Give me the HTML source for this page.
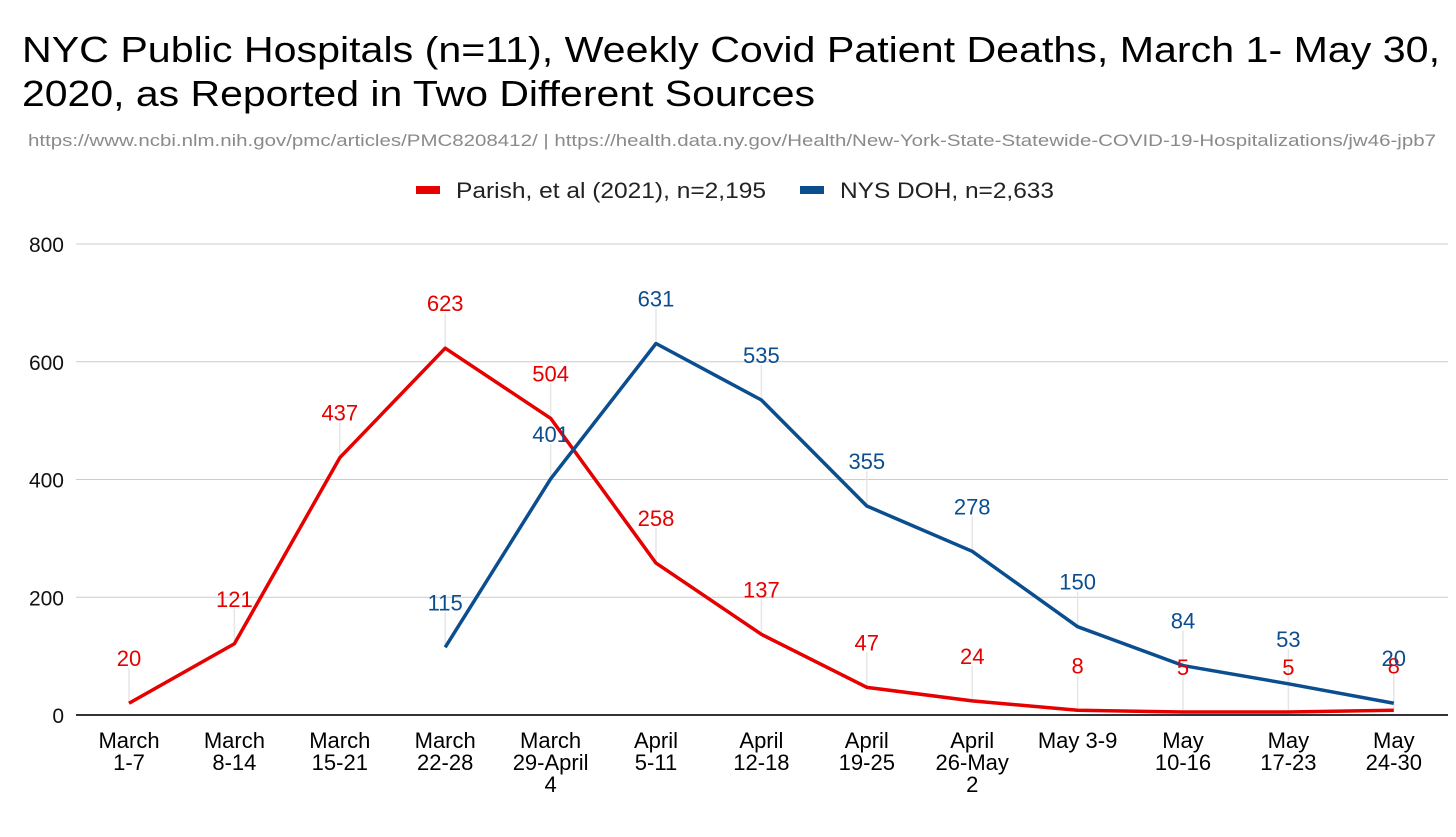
<!DOCTYPE html>
<html><head><meta charset="utf-8"><style>
body{margin:0;background:#fff;font-family:"Liberation Sans",Arial,sans-serif;}
svg{display:block}
</style></head><body>
<svg width="1456" height="837" viewBox="0 0 1456 837">
<text x="22" y="62" font-size="36" fill="#000" textLength="1418" lengthAdjust="spacingAndGlyphs">NYC Public Hospitals (n=11), Weekly Covid Patient Deaths, March 1- May 30,</text>
<text x="22" y="106" font-size="36" fill="#000" textLength="793" lengthAdjust="spacingAndGlyphs">2020, as Reported in Two Different Sources</text>
<text x="28" y="146" font-size="17" fill="#8a8a8a" textLength="1408" lengthAdjust="spacingAndGlyphs">https://www.ncbi.nlm.nih.gov/pmc/articles/PMC8208412/ | https://health.data.ny.gov/Health/New-York-State-Statewide-COVID-19-Hospitalizations/jw46-jpb7</text>
<g>
<rect x="416" y="186" width="24" height="8" fill="#e60000"/>
<text x="456" y="198" font-size="22" fill="#222" textLength="310" lengthAdjust="spacingAndGlyphs">Parish, et al (2021), n=2,195</text>
<rect x="800" y="186" width="24" height="8" fill="#0b4e8f"/>
<text x="840" y="198" font-size="22" fill="#222" textLength="214" lengthAdjust="spacingAndGlyphs">NYS DOH, n=2,633</text>
</g>
<g id="grid"></g><g id="xlabels"></g><g id="leaders"></g><g id="lines"></g><g id="vlabels"></g>
</svg>
<script>
const categories=[["March","1-7"],["March","8-14"],["March","15-21"],["March","22-28"],["March","29-April","4"],["April","5-11"],["April","12-18"],["April","19-25"],["April","26-May","2"],["May 3-9"],["May","10-16"],["May","17-23"],["May","24-30"]];
const parishValues=[20,121,437,623,504,258,137,47,24,8,5,5,8];
const dohValues=[null,null,null,115,401,631,535,355,278,150,84,53,20];
const yTicks=[0,200,400,600,800];
const NS="http://www.w3.org/2000/svg";
const x0=76,x1=1448,yBase=715,yTop=244;
function xPos(i){return 129+i*105.4;}
function yPos(v){return yBase-(v/800)*(yBase-yTop);}
function mk(t,a,p){const e=document.createElementNS(NS,t);for(const k in a)e.setAttribute(k,a[k]);document.getElementById(p).appendChild(e);return e;}
yTicks.forEach(v=>{
 const l=mk('line',{x1:x0,x2:x1,y1:yPos(v),y2:yPos(v),stroke:v===0?'#333':'#ccc','stroke-width':v===0?2:1},'grid');
 
 
 const t=mk('text',{x:64,y:yPos(v)+8,'font-size':21,'text-anchor':'end',fill:'#111'},'grid');
 t.textContent=v;
 
 
});
categories.forEach((c,i)=>{
 const t=mk('text',{x:xPos(i),'font-size':22,'text-anchor':'middle',fill:'#000'},'xlabels');
 
 
 c.forEach((s,j)=>{const ts=document.createElementNS(NS,'tspan');ts.setAttribute('x',xPos(i));ts.setAttribute('y',748+j*22);ts.textContent=s;t.appendChild(ts);});
});
function series(vals,color,name){
 let pts=[];vals.forEach((v,i)=>{if(v!==null)pts.push(xPos(i)+','+yPos(v));});
 const p=mk('polyline',{points:pts.join(' '),fill:'none',stroke:color,'stroke-width':3.5,'stroke-linejoin':'round'},'lines');
 
 
 vals.forEach((v,i)=>{if(v===null)return;
  const ly=yPos(v)-45;
  const ld=mk('line',{x1:xPos(i),x2:xPos(i),y1:ly+10,y2:yPos(v),stroke:'#e6e6e6','stroke-width':1.5},'leaders');
  
  
  const t=mk('text',{x:xPos(i),y:ly+8,'font-size':22,'text-anchor':'middle',fill:color},'vlabels');
  t.textContent=v;
  
  
 });
}
series(parishValues,'#e60000','parish');
series(dohValues,'#0b4e8f','nysdoh');
</script>
</body></html>
